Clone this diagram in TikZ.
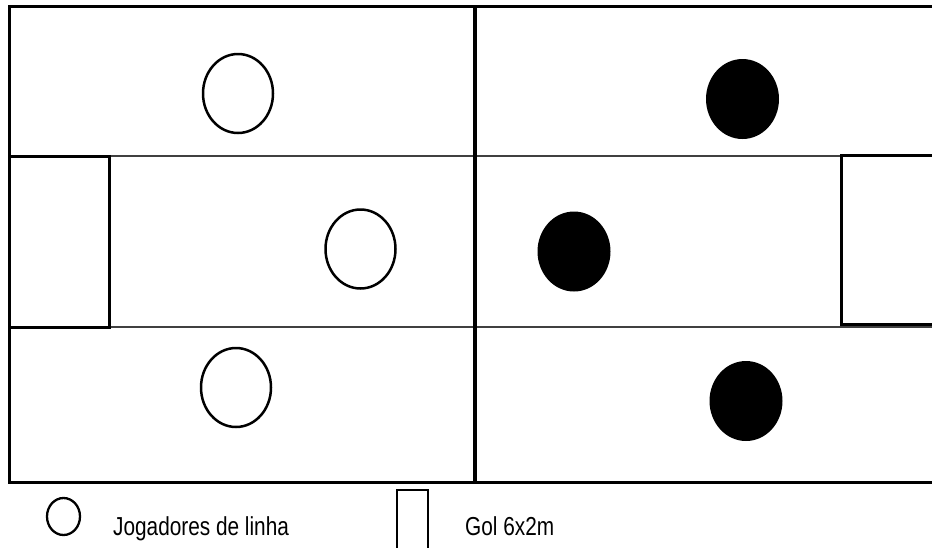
\documentclass[tikz,border=0pt]{standalone}
\usepackage{fontspec}
\setmainfont{Liberation Sans}
\usetikzlibrary{shapes.geometric}
\begin{document}
\begin{tikzpicture}[x=1pt,y=-1pt,
  fieldline/.style={line width=3pt,black},
  midline/.style={line width=4pt,black},
  thinline/.style={line width=1.3pt,black!75},
  goalbox/.style={draw,line width=3pt,rectangle,inner sep=0pt,outer sep=0pt},
  whiteplayer/.style={ellipse,draw,line width=2.5pt,fill=white,inner sep=0pt,minimum width=70pt,minimum height=79pt},
  blackplayer/.style={ellipse,fill=black,inner sep=0pt,minimum width=73pt,minimum height=80pt},
  legendtext/.style={anchor=base west,inner sep=0pt,font=\fontsize{26}{30}\selectfont,xscale=0.8}
]
\useasboundingbox (0,0) rectangle (932,547);
\clip (0,0) rectangle (932,547);
\fill[white] (0,0) rectangle (932,547);
% thin lines
\draw[thinline] (9,156) -- (940,156);
\draw[thinline] (9,327) -- (940,327);
% field border
\draw[fieldline] (940,6) -- (9,6) -- (9,482) -- (940,482);
\draw[midline] (475,6) -- (475,482);
% goals
\node[goalbox,minimum width=100pt,minimum height=171pt] (goalL) at (59,241.5) {};
\node[goalbox,minimum width=100pt,minimum height=169pt] (goalR) at (891,239.5) {};
% players
\node[whiteplayer] (w1) at (238,93.5) {};
\node[whiteplayer] (w2) at (360.5,249) {};
\node[whiteplayer] (w3) at (236,387.5) {};
\node[blackplayer] (b1) at (742.5,99) {};
\node[blackplayer] (b2) at (574,251.5) {};
\node[blackplayer] (b3) at (746,401) {};
% legend
\node[ellipse,draw,line width=2.3pt,inner sep=0pt,minimum width=33pt,minimum height=37pt] (legC) at (63.5,516.5) {};
\node[legendtext] (legCt) at (113,535) {Jogadores de linha};
\node[goalbox,line width=2.5pt,minimum width=31pt,minimum height=70pt] (legG) at (412.5,525) {};
\node[legendtext] (legGt) at (465,535) {Gol 6x2m};
\end{tikzpicture}
\end{document}
